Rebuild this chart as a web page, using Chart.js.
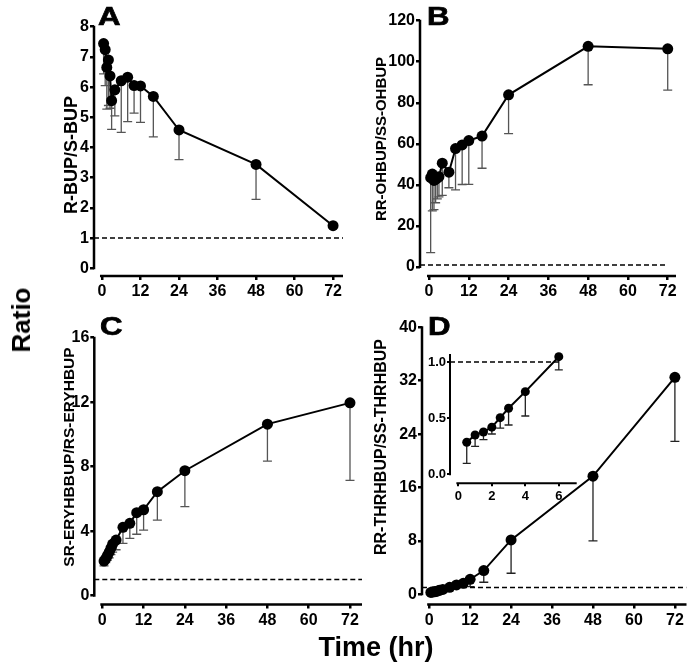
<!DOCTYPE html>
<html>
<head>
<meta charset="utf-8">
<script src="https://cdn.jsdelivr.net/npm/chart.js@4.4.1/dist/chart.umd.min.js"></script>
<style>
    body { margin: 0; background: #fff; }
    #page { position: relative; width: 692px; height: 668px; overflow: hidden; font-family: "Liberation Sans", Arial, sans-serif; font-weight: bold; color: #000; }
    #page canvas { position: absolute; left: 0; top: 0; }
    .txt { position: absolute; white-space: nowrap; line-height: 1; }
    .rot { transform: translate(-50%, -50%) rotate(-90deg); }
    .big { font-size: 26px; transform: scaleX(1.2); transform-origin: left top; -webkit-text-stroke: 0.7px #000; }
</style>
</head>
<body>
<div id="page">
    <canvas id="chartA" width="692" height="668"></canvas>
    <canvas id="chartB" width="692" height="668"></canvas>
    <canvas id="chartC" width="692" height="668"></canvas>
    <canvas id="chartD" width="692" height="668"></canvas>
    <canvas id="chartInset" width="692" height="668"></canvas>

    <div class="txt big" style="left:98px; top:3px;">A</div>
    <div class="txt big" style="left:427px; top:3px;">B</div>
    <div class="txt big" style="left:100px; top:313px;">C</div>
    <div class="txt big" style="left:428px; top:313px;">D</div>

    <div class="txt rot" style="left:71px; top:155px; font-size:18px;">R-BUP/S-BUP</div>
    <div class="txt rot" style="left:380px; top:139px; font-size:15px;">RR-OHBUP/SS-OHBUP</div>
    <div class="txt rot" style="left:69px; top:457px; font-size:15.5px;">SR-ERYHBBUP/RS-ERYHBUP</div>
    <div class="txt rot" style="left:381px; top:447px; font-size:16px;">RR-THRHBUP/SS-THRHBUP</div>

    <div class="txt rot" style="left:21px; top:320px; font-size:26px;">Ratio</div>
    <div class="txt" style="left:376px; top:634px; font-size:27px; transform:translateX(-50%);">Time (hr)</div>
</div>
<script>
// sampling times (hr)
const hours = [0.5, 1, 1.5, 2, 2.5, 3, 4, 6, 8, 10, 12, 16, 24, 48, 72];
const hourTicks = [0, 12, 24, 36, 48, 60, 72];
const insetHourTicks = [0, 2, 4, 6];
const insetLastHour = 6;
const parity = 1;

// A: R-BUP/S-BUP (mean, lower end of error bar)
const bupMean = [7.44, 7.24, 6.65, 6.9, 6.37, 5.55, 5.91, 6.21, 6.33, 6.05, 6.04, 5.69, 4.58, 3.44, 1.41];
const bupLow  = [6.44, 6.05, 5.27, 5.39, 5.3, 4.6, 5.05, 4.5, 4.86, 5.14, 4.83, 4.35, 3.6, 2.28, 1.35];
const bupTicks = [0, 1, 2, 3, 4, 5, 6, 7, 8];

// B: RR-OHBUP/SS-OHBUP
const ohbupMean = [43.5, 45.3, 42.2, 42.8, 43.3, 44.0, 50.6, 46.2, 57.7, 59.5, 61.6, 63.8, 83.9, 107.5, 106.3];
const ohbupLow  = [7.0, 27.3, 28.0, 31.3, 33.2, 34.2, 34.9, 38.6, 37.6, 40.2, 40.3, 48.1, 65.0, 88.8, 86.2];
const ohbupTicks = [0, 20, 40, 60, 80, 100, 120];

// C: SR-ERYHBBUP/RS-ERYHBUP
const eryMean = [2.15, 2.3, 2.5, 2.7, 2.95, 3.2, 3.45, 4.24, 4.49, 5.15, 5.33, 6.45, 7.75, 10.64, 11.96];
const eryLow  = [1.85, 2.05, 2.2, 2.35, 2.55, 2.7, 2.85, 3.25, 3.56, 3.81, 4.07, 4.69, 5.52, 8.35, 7.15];
const eryTicks = [0, 4, 8, 12, 16];

// D: RR-THRHBUP/SS-THRHBUP
const thrMean = [0.285, 0.35, 0.377, 0.42, 0.504, 0.588, 0.736, 1.047, 1.4, 1.65, 2.25, 3.55, 8.14, 17.7, 32.5];
const thrLow  = [0.098, 0.249, 0.309, 0.359, 0.412, 0.439, 0.519, 0.929, 1.2, 1.3, 1.15, 1.8, 3.15, 8.0, 22.9];
const thrTicks = [0, 8, 16, 24, 32, 40];
const insetTicks = [0, 0.5, 1];

Chart.defaults.font.family = "'Liberation Sans', Arial, sans-serif";
Chart.defaults.font.weight = 'bold';
Chart.defaults.color = '#000';

const Y_W = 50;
const X_H = 30;

// prism-style axes (offset lines) + one-sided error bars
function prismPlugin(cfg) {
    return {
        id: 'prism',
        beforeDatasetsDraw(chart) {
            const c = chart.ctx;
            const xs = chart.scales.x;
            const ys = chart.scales.y;
            c.save();
            c.strokeStyle = cfg.barColor;
            c.lineWidth = 1.3;
            cfg.x.forEach((h, i) => {
                const px = xs.getPixelForValue(h);
                const y1 = ys.getPixelForValue(cfg.mean[i]);
                const y2 = ys.getPixelForValue(cfg.low[i]);
                c.beginPath();
                c.moveTo(px, y1);
                c.lineTo(px, y2);
                c.moveTo(px - cfg.cap, y2);
                c.lineTo(px + cfg.cap, y2);
                c.stroke();
            });
            c.restore();
        },
        afterDraw(chart) {
            const c = chart.ctx;
            const a = chart.chartArea;
            const xs = chart.scales.x;
            const ys = chart.scales.y;
            c.save();
            c.strokeStyle = '#000';
            c.lineWidth = cfg.axisWidth;
            c.beginPath();
            c.moveTo(a.left, a.top - 1);
            c.lineTo(a.left, ys.getPixelForValue(0) + 1);
            c.moveTo(xs.getPixelForValue(0) - 2, a.bottom);
            c.lineTo(a.right, a.bottom);
            c.stroke();
            c.restore();
        }
    };
}

function panel(id, cfg) {
    const pts = cfg.x.map((h, i) => ({ x: h, y: cfg.mean[i] }));
    const tickGrid = { display: true, drawOnChartArea: false, drawTicks: true, tickLength: cfg.tickLen, color: '#000', lineWidth: cfg.axisWidth };
    return new Chart(document.getElementById(id).getContext('2d'), {
        type: 'line',
        data: {
            datasets: [
                {
                    data: pts,
                    borderColor: '#000',
                    borderWidth: cfg.lineWidth,
                    pointRadius: cfg.r,
                    pointHoverRadius: cfg.r,
                    pointBackgroundColor: '#000',
                    pointBorderWidth: 0,
                    clip: false
                },
                {
                    data: [{ x: cfg.xMin, y: parity }, { x: cfg.refTo, y: parity }],
                    borderColor: '#000',
                    borderWidth: 1.5,
                    borderDash: [5, 3],
                    pointRadius: 0
                }
            ]
        },
        options: {
            responsive: false,
            animation: false,
            events: [],
            layout: {
                padding: {
                    left: cfg.area.left - Y_W,
                    top: cfg.area.top,
                    right: 692 - cfg.area.right,
                    bottom: 668 - cfg.area.bottom - X_H
                }
            },
            scales: {
                x: {
                    type: 'linear',
                    min: cfg.xMin,
                    max: cfg.xMax,
                    afterBuildTicks: s => { s.ticks = cfg.xTicks.map(v => ({ value: v })); },
                    afterFit: s => { s.height = X_H; },
                    grid: tickGrid,
                    border: { display: false },
                    ticks: { autoSkip: false, maxRotation: 0, padding: 2, font: { size: cfg.font, weight: 'bold' } }
                },
                y: {
                    type: 'linear',
                    min: cfg.yMin,
                    max: cfg.yMax,
                    afterBuildTicks: s => { s.ticks = cfg.yTicks.map(v => ({ value: v })); },
                    afterFit: s => { s.width = Y_W; },
                    grid: tickGrid,
                    border: { display: false },
                    ticks: { padding: 1, font: { size: cfg.font, weight: 'bold' }, callback: cfg.yFmt || (v => v) }
                }
            },
            plugins: { legend: { display: false }, tooltip: { enabled: false } }
        },
        plugins: [prismPlugin(cfg)]
    });
}

const mainStyle = { r: 5.5, lineWidth: 2, font: 16, tickLen: 4, axisWidth: 2.5, cap: 4.5, barColor: '#555' };

panel('chartA', Object.assign({}, mainStyle, {
    x: hours, mean: bupMean, low: bupLow,
    area: { left: 94, right: 343, top: 26.7, bottom: 276 },
    xMin: -2.49, xMax: 75.1, refTo: 75.1, xTicks: hourTicks,
    yMin: -0.255, yMax: 8, yTicks: bupTicks
}));

panel('chartB', Object.assign({}, mainStyle, {
    x: hours, mean: ohbupMean, low: ohbupLow,
    area: { left: 420, right: 676, top: 20.7, bottom: 276 },
    xMin: -2.715, xMax: 74.5, refTo: 72, xTicks: hourTicks,
    yMin: -4.385, yMax: 120, yTicks: ohbupTicks
}));

panel('chartC', Object.assign({}, mainStyle, {
    x: hours, mean: eryMean, low: eryLow,
    area: { left: 94.3, right: 362, top: 337.7, bottom: 604.5 },
    xMin: -2.33, xMax: 75.49, refTo: 75.49, xTicks: hourTicks,
    yMin: -0.546, yMax: 16, yTicks: eryTicks
}));

panel('chartD', Object.assign({}, mainStyle, {
    x: hours, mean: thrMean, low: thrLow, barColor: '#222',
    area: { left: 422, right: 691, top: 327.3, bottom: 604.5 },
    xMin: -2.1, xMax: 75.4, refTo: 75.4, xTicks: hourTicks,
    yMin: -1.53, yMax: 40, yTicks: thrTicks
}));

// inset of D: first hours only
const nInset = hours.filter(h => h <= insetLastHour).length;
panel('chartInset', {
    r: 4.5, lineWidth: 2, font: 13, tickLen: 3, axisWidth: 2, cap: 4, barColor: '#222',
    x: hours.slice(0, nInset), mean: thrMean.slice(0, nInset), low: thrLow.slice(0, nInset),
    area: { left: 450, right: 576.7, top: 355, bottom: 483.3 },
    xMin: -0.5, xMax: 7.07, refTo: insetLastHour, xTicks: insetHourTicks,
    yMin: -0.08, yMax: 1.062, yTicks: insetTicks, yFmt: v => v.toFixed(1)
});
</script>
</body>
</html>
